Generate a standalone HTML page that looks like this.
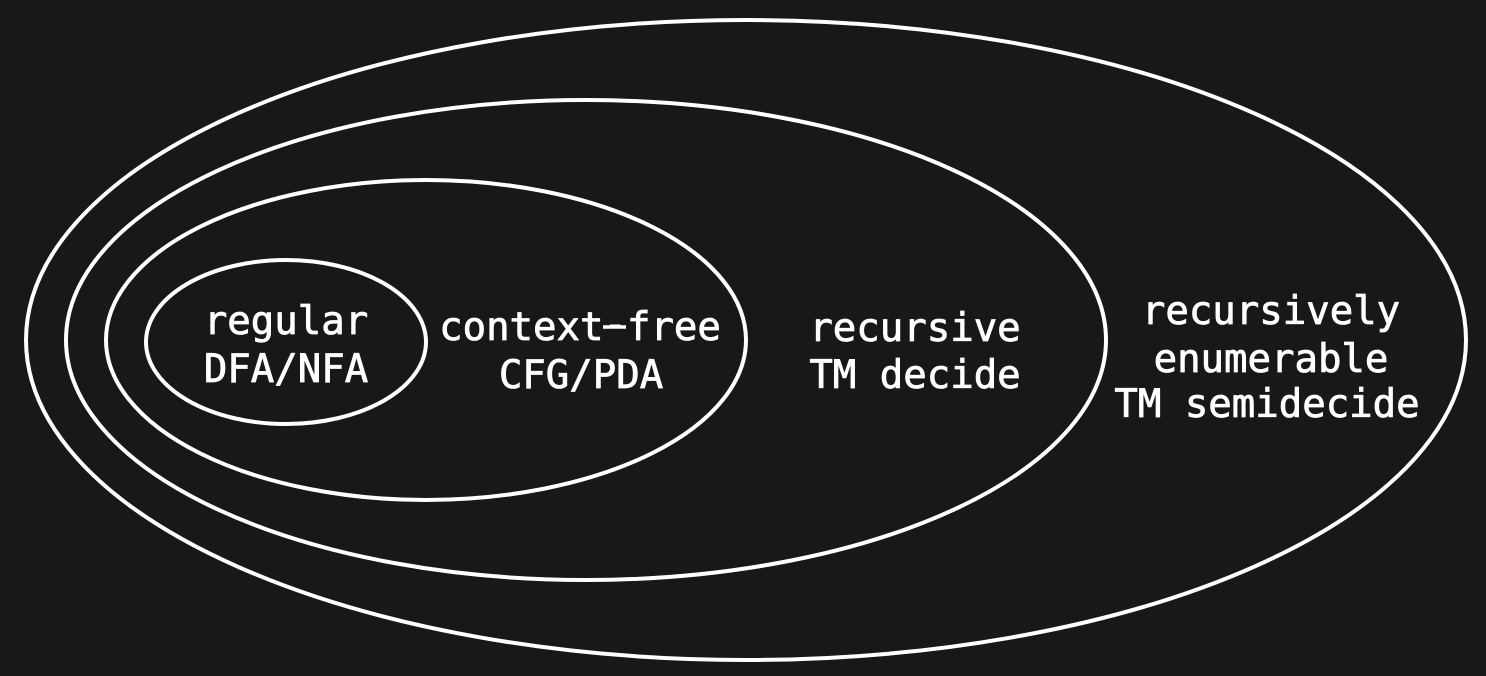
<!DOCTYPE html>
<html><head><meta charset="utf-8"><style>
html,body{margin:0;padding:0;background:#181818}
svg{display:block}
text{font-family:"DejaVu Sans Mono","Liberation Mono",monospace;font-size:39px;fill:#fff;stroke:#fff;stroke-width:0.8px;text-anchor:middle}
</style></head><body>
<svg width="1486" height="676" viewBox="0 0 1486 676" xmlns="http://www.w3.org/2000/svg">
<rect width="1486" height="676" fill="#181818"/>
<g fill="none" stroke="#fff" stroke-width="4">
<ellipse cx="746" cy="340" rx="720" ry="320"/>
<ellipse cx="586" cy="340" rx="520" ry="240"/>
<ellipse cx="426" cy="340" rx="320" ry="160"/>
<ellipse cx="286" cy="342" rx="140" ry="82"/>
</g>
<text x="286" y="334">regular</text>
<text x="286" y="382">DFA/NFA</text>
<text x="580" y="340">context<tspan dy="-3">-</tspan><tspan dy="3">free</tspan></text>
<line x1="603" y1="327" x2="626" y2="327" stroke="#fff" stroke-width="3.5"/>
<text x="581" y="388">CFG/PDA</text>
<text x="915" y="341">recursive</text>
<text x="915" y="388">TM decide</text>
<text x="1271" y="324">recursively</text>
<text x="1271" y="372">enumerable</text>
<text x="1267" y="417">TM semidecide</text>
</svg>
</body></html>
